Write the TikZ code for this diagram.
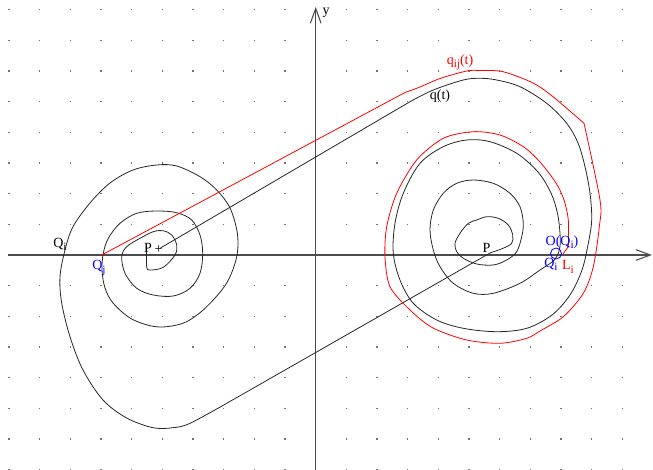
\documentclass[tikz,border=0pt]{standalone}
\usepackage{fontspec}
\setmainfont{Liberation Serif}
\usetikzlibrary{arrows.meta}
\newcommand\lowsub[1]{\raisebox{-0.5ex}{\fontsize{8.5}{9}\selectfont #1}}
\begin{document}
\begin{tikzpicture}[x=0.75pt,y=-0.75pt,
  curve/.style={line width=0.6pt, black!85},
  redcurve/.style={line width=0.6pt, red},
  axisline/.style={line width=1pt, black!70, -{Straight Barb[length=11pt,width=8pt,line width=0.8pt]}},
  lbl/.style={inner sep=0pt, font=\fontsize{10.5}{12}\selectfont},
  dotmark/.style={fill=black!55},
  ]
\useasboundingbox (0,0) rectangle (653,470);
% grid of dots
\foreach \i in {-10,...,10}
  \foreach \j in {-8,...,7}
    \fill[dotmark] ({315.7+30.67*\i-0.6},{255+30.67*\j-0.6}) rectangle ++(1.2,1.2);
% axes
\coordinate (xs) at (8,255);
\coordinate (xe) at (652,255);
\coordinate (ys) at (315.7,470);
\coordinate (ye) at (315.7,7);
\draw[axisline] (xs) -- (xe);
\draw[axisline] (ys) -- (ye);
\node[lbl] (ylab) at (326,13) {y};
% key points
\coordinate (P) at (490,253);
\coordinate (Pp) at (160,248.3);
\coordinate (Qi) at (558,254);
\coordinate (Qj) at (101.7,255);
\coordinate (A) at (226.7,403.3);
\coordinate (B) at (410,101.7);
\coordinate (R) at (405,92.5);
% black curve q(t)
% inner right spiral: P -> Qi
\draw[curve] plot[smooth, tension=0.55] coordinates {(490,253) (503,248.3) (511.7,243.3) (512.7,235) (508.3,225) (498.3,218.3) (486.7,216.7) (476.7,220) (468.3,223.3) (460,233.3) (455,243.3) (456.7,251.7) (463.3,258.3) (476.7,264) (493.3,265) (506.7,260) (516.7,251.7) (521.7,236.7) (523.3,223.3) (520,206.7) (510,193.3) (493.3,183.3) (473.3,180) (456.7,183.3) (443.3,193.3) (433.3,210) (430,230) (433.3,250) (440,266.7) (453.3,283.3) (473.3,293.3) (493.3,293.3) (520,283.3) (540,270) (553.3,261) (558,254)};
% straight line P -> A
\draw[curve] (P) -- (A);
% left spiral: A -> inner end
\draw[curve] plot[smooth, tension=0.55] coordinates {(226.7,403.3) (190,423.3) (173,427.7) (153,427.7) (126.7,418) (103,400) (83,370) (70,336.7) (61.7,303) (60,276.7) (65,250) (73,226.7) (90,203) (110,183) (133,170) (156.7,165) (176.7,166) (200,176.7) (216.7,190) (230,208) (237.3,233) (236.7,256.7) (226.7,283) (206.7,306.7) (186.7,321.7) (166.7,326.7) (150,325.7) (130,318) (113,303) (105,288) (102,270) (103.3,253.3) (108.3,238.3) (120,223.3) (136.7,213.3) (156.7,211) (176.7,212.7) (191.7,220) (200,235) (202.7,253.3) (200,273.3) (190,288.3) (173.3,296) (153.3,295) (136.7,288.3) (125,273.3) (121.7,256.7) (126.7,246.7) (140,238.3) (153.3,231.7) (163.3,230.7) (171.7,235) (176.7,245) (175,255) (163.3,267.3) (150,270) (146.7,266.7) (146.7,246.7)};
% straight line P+ -> B
\draw[curve] (Pp) -- (B);
% outer right loop: B -> Qi
\draw[curve] plot[smooth, tension=0.55] coordinates {(410,101.7) (433.3,90) (463.3,80) (480,78.3) (496.7,80) (520,86.7) (546.7,103.3) (566.7,123.3) (578,143) (585,166.7) (590,193.3) (591.7,220) (588.3,243.3) (582,270) (570,295) (552,315) (526.7,328.3) (496.7,331.7) (463.3,328.3) (436.7,320) (413.3,303.3) (400,280) (393.3,253.3) (395,223.3) (403.3,193.3) (420,163.3) (443.3,146.7) (466.7,140) (490,141.7) (516.7,153.3) (538,172) (551,193) (557.5,213.3) (560,233.3) (560,246.7) (558,254)};
% red curve q_ij(t)
\draw[redcurve] (Qj) -- (R);
\draw[redcurve] plot[smooth, tension=0.5] coordinates {(405,92.5) (420,87) (440,78.5) (466.7,71) (480,70.5) (503,71.7) (533,83) (553,96.7) (584,123.3)};
\draw[redcurve] plot[smooth, tension=0.5] coordinates {(584,123.3) (600,200) (599.3,226.7) (593.3,266.7) (583.3,293.3) (563.3,316.7) (540,331) (526.7,338.3) (500,343.3) (466.7,340) (433,328) (410,310) (390,286.7) (385,256.7) (386.7,226.7) (396.7,193.3) (416.7,160) (443.3,138.3) (473.3,131.7) (500,135) (523.3,146.7) (540,162) (556,183) (564,200) (568.3,220) (568.3,246.7)};
\draw[redcurve] (568.3,246.7) -- (563,254);
% blue circle at Q_i
\draw[blue, line width=0.6pt] (556,253.5) circle[radius=5.5];
% labels
\node[lbl] (Pl) at (486.5,248) {P};
\node[lbl] (Ppl) at (148,248) {P};
\node[lbl] (plus) at (158.5,249.5) {+};
\node[lbl] (qlab) at (440,96) {q(t)};
\node[lbl, red] (qijlab) at (460,62) {q\lowsub{ij}(t)};
\node[lbl] (Qileft) at (60,244) {Q\lowsub{i}};
\node[lbl, blue] (Qjlab) at (99,268) {Q\lowsub{j}};
\node[lbl, blue] (OQi) at (562,242) {O(Q\lowsub{i})};
\node[lbl, blue] (Qilab) at (551,264) {Q\lowsub{i}};
\node[lbl, red] (Lilab) at (568,267) {L\lowsub{i}};
\end{tikzpicture}
\end{document}
